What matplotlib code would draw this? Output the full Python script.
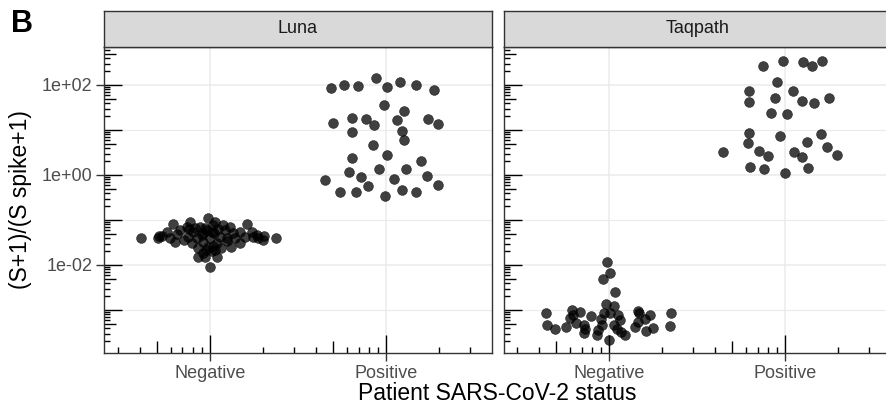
import numpy as np
import matplotlib.pyplot as plt
from matplotlib.transforms import blended_transform_factory

plt.rcParams['font.family'] = ['Liberation Sans', 'DejaVu Sans']

panels = ['Luna', 'Taqpath']
statuses = ['Negative', 'Positive']
ytick_vals = [1e-2, 1e0, 1e2]
ytick_labels = ['1e-02', '1e+00', '1e+02']

# log10((S+1)/(S spike+1)), plus the swarm offsets
luna_neg_log = [-1.39, -1.39, -1.41, -1.35, -1.26, -1.09, -1.41, -1.31, -1.48, -1.22,
                -1.15, -1.04, -1.37, -1.52, -1.26, -1.41, -1.15, -1.33, -1.48, -1.63,
                -1.83, -1.82, -1.73, -0.96, -2.04, -1.22, -1.41, -1.59, -1.70, -1.11,
                -1.04, -1.30, -1.52, -1.82, -1.67, -1.37, -1.11, -1.22, -1.41, -1.15,
                -1.30, -1.41, -1.52, -1.26, -1.10, -1.37, -1.26, -1.37, -1.41, -1.33,
                -1.18, -1.27, -1.20, -1.18, -1.47, -1.44, -1.62, -1.67, -1.58, -1.60,
                -1.29, -1.20, -1.36, -1.44, -1.36]
luna_neg_dx = [-0.392, 0.377, -0.292, -0.273, -0.244, -0.207, -0.226, -0.188, -0.197, -0.169,
               -0.131, -0.112, -0.122, -0.102, -0.093, -0.074, -0.055, -0.045, -0.036, -0.065,
               -0.068, -0.027, -0.040, -0.008, 0.002, -0.017, 0.002, -0.008, 0.011, 0.020,
               0.030, 0.026, 0.040, 0.040, 0.030, 0.059, 0.077, 0.087, 0.097, 0.115,
               0.134, 0.144, 0.172, 0.172, 0.210, 0.200, 0.239, 0.248, 0.276, 0.267,
               -0.027, 0.013, 0.047, -0.084, 0.098, -0.146, 0.064, -0.021, 0.019, 0.121,
               -0.038, -0.118, 0.310, 0.300, -0.290]

luna_pos_log = [1.93, 2.00, 1.98, 2.15, 1.96, 2.07, 1.99, 1.88, 1.55, 1.42,
                1.27, 1.24, 1.16, 1.10, 1.22, 1.25, 1.14, 0.96, 0.98, 0.77,
                0.67, 0.38, 0.44, 0.32, 0.07, 0.14, 0.13, -0.04, -0.12, -0.08,
                -0.03, -0.24, -0.37, -0.38, -0.46, -0.33, -0.37, -0.23]
luna_pos_dx = [-0.312, -0.238, -0.157, -0.055, 0.008, 0.082, 0.171, 0.275, -0.011, 0.105,
               -0.194, -0.113, -0.299, -0.066, 0.065, 0.239, 0.296, -0.191, 0.090, 0.101,
               -0.072, -0.194, 0.008, 0.199, -0.211, -0.041, 0.114, -0.143, -0.348, 0.048,
               0.232, -0.100, -0.261, -0.168, -0.003, 0.091, 0.169, 0.298]

taq_neg_log = [-1.94, -2.17, -2.32, -2.61, -3.06, -3.06, -3.34, -3.36, -3.43, -3.38,
               -3.01, -3.12, -3.18, -3.04, -3.28, -3.33, -3.42, -3.52, -3.13, -3.44,
               -3.56, -3.21, -3.33, -2.87, -3.06, -2.91, -3.07, -3.67, -3.11, -3.22,
               -3.33, -3.42, -3.48, -3.56, -3.37, -3.26, -3.02, -3.07, -3.20, -3.11,
               -3.46, -3.39]
taq_neg_dx = [-0.013, 0.006, -0.034, 0.032, -0.360, 0.351, -0.351, 0.343, -0.308, -0.246,
              -0.212, -0.206, -0.222, -0.165, -0.188, -0.146, -0.136, -0.146, -0.102, -0.066,
              -0.070, -0.045, -0.041, -0.017, -0.032, 0.025, 0.006, 0.000, 0.049, 0.063,
              0.025, 0.044, 0.068, 0.091, 0.148, 0.161, 0.161, 0.170, 0.205, 0.233,
              0.210, 0.248]

taq_pos_log = [2.43, 2.53, 2.52, 2.42, 2.53, 2.06, 1.87, 1.87, 1.62, 1.70,
               1.64, 1.59, 1.72, 1.38, 1.36, 0.93, 0.87, 0.91, 0.70, 0.73,
               0.50, 0.54, 0.43, 0.50, 0.41, 0.62, 0.44, 0.18, 0.14, 0.04, 0.16]
taq_pos_dx = [-0.125, -0.011, 0.102, 0.153, 0.210, -0.045, -0.205, 0.047, -0.205, -0.057,
              0.098, 0.165, 0.252, -0.081, 0.011, -0.206, -0.030, 0.205, -0.212, 0.125,
              -0.351, -0.149, -0.095, 0.051, 0.097, 0.240, 0.294, -0.199, -0.121, 0.002, 0.129]

data = {
    'Luna': [(luna_neg_dx, luna_neg_log), (luna_pos_dx, luna_pos_log)],
    'Taqpath': [(taq_neg_dx, taq_neg_log), (taq_pos_dx, taq_pos_log)],
}

W, H = 887, 408
fig = plt.figure(figsize=(W / 100, H / 100), dpi=100)


def box(l, t, r, b):
    return [l / W, (H - b) / H, (r - l) / W, (b - t) / H]


ylo, yhi = -3.956, 2.844
xlo, xhi = 0.4, 2.6
panel_px = [(104, 491.7), (503.7, 890.6)]
top, bot, strip_top = 47, 353, 10.7
pw, ph = panel_px[0][1] - panel_px[0][0], bot - top


def tick_len(k):
    return 18 if k == 1 else (12 if k == 5 else 6)


for i, name in enumerate(panels):
    l, r = panel_px[i]
    ax = fig.add_axes(box(l, top, r, bot))
    ax.set_yscale('log')
    ax.set_xlim(xlo, xhi)
    ax.set_ylim(10 ** ylo, 10 ** yhi)

    # grid
    for x in [1, 2]:
        ax.axvline(x, color='#EBEBEB', lw=1.1, zorder=0)
    for v in ytick_vals:
        ax.axhline(v, color='#EBEBEB', lw=1.1, zorder=0)
    for v in [1e-3, 1e-1, 1e1]:
        ax.axhline(v, color='#EBEBEB', lw=0.8, zorder=0)

    for j, (dx, ly) in enumerate(data[name]):
        xs = j + 1 + np.array(dx)
        ys = 10 ** np.array(ly)
        ax.scatter(xs, ys, s=50, color='black', alpha=0.75, edgecolors='black',
                   linewidths=0.4, zorder=3)

    # log ticks along left and bottom edges
    ty = blended_transform_factory(ax.transAxes, ax.transData)
    tx = blended_transform_factory(ax.transData, ax.transAxes)
    for e in range(-5, 4):
        for k in range(1, 10):
            v = np.log10(k) + e
            if ylo <= v <= yhi:
                ax.plot([0, tick_len(k) / pw], [10 ** v, 10 ** v], transform=ty,
                        color='black', lw=1.0, zorder=4, solid_capstyle='butt')
    for e in range(-1, 3):
        for k in range(1, 10):
            v = np.log10(k) + e
            if xlo <= v <= xhi:
                ax.plot([v, v], [0, tick_len(k) / ph], transform=tx,
                        color='black', lw=1.0, zorder=4, solid_capstyle='butt')

    ax.set_xticks([1, 2])
    ax.set_xticklabels(statuses)
    ax.yaxis.set_minor_locator(plt.NullLocator())
    ax.set_yticks(ytick_vals)
    if i == 0:
        ax.set_yticklabels(ytick_labels)
        ax.tick_params(axis='y', length=5.5, width=1.0, color='#333333', pad=3,
                       labelsize=13, labelcolor='#4D4D4D')
    else:
        ax.tick_params(axis='y', length=0, labelleft=False)
    ax.tick_params(axis='x', length=5.8, width=1.0, color='#333333', pad=3,
                   labelsize=13, labelcolor='#4D4D4D')
    for s in ax.spines.values():
        s.set_color('#333333')
        s.set_linewidth(1.0)
        s.set_zorder(5)

    sax = fig.add_axes(box(l, strip_top, r, top))
    sax.set_facecolor('#D9D9D9')
    sax.set_xticks([])
    sax.set_yticks([])
    for s in sax.spines.values():
        s.set_color('#333333')
        s.set_linewidth(1.0)
    sax.text(0.5, 0.5, name, ha='center', va='center', fontsize=13,
             color='#1A1A1A', transform=sax.transAxes)

fig.text(497 / W, (H - 400) / H, 'Patient SARS-CoV-2 status', ha='center',
         va='baseline', fontsize=16.5, color='black')
fig.text(20.5 / W, (H - 200) / H, '(S+1)/(S spike+1)', ha='center', va='center',
         rotation=90, fontsize=16.5, color='black')
fig.text(11 / W, (H - 32) / H, 'B', ha='left', va='baseline', fontsize=22,
         fontweight='bold')

fig.savefig('out.png', dpi=100)
